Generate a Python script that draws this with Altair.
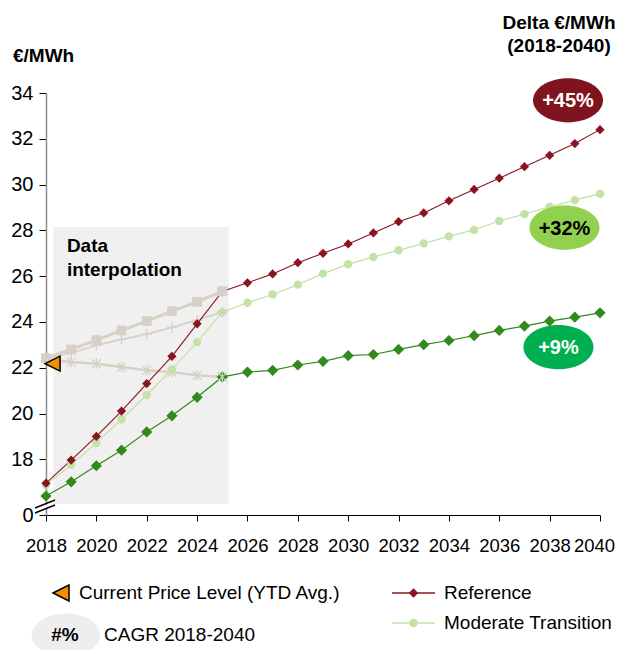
import altair as alt
import pandas as pd

# ---------------- data ----------------
years = list(range(2018, 2041))
reference = [16.96, 17.97, 19.0, 20.11, 21.31, 22.5, 23.92, 25.33, 25.71, 26.1, 26.59, 27.0,
             27.41, 27.89, 28.38, 28.76, 29.29, 29.79, 30.28, 30.78, 31.28, 31.79, 32.4]
moderate = [16.88, 17.76, 18.72, 19.75, 20.81, 21.93, 23.12, 24.43, 24.84, 25.2, 25.63, 26.11,
            26.52, 26.84, 27.13, 27.43, 27.74, 28.02, 28.41, 28.71, 29.03, 29.32, 29.6]
ambitious = [16.4, 17.02, 17.72, 18.4, 19.2, 19.9, 20.71, 21.6, 21.81, 21.89, 22.12, 22.28,
             22.53, 22.58, 22.8, 23.01, 23.19, 23.4, 23.63, 23.82, 24.04, 24.21, 24.4]

interp_years = list(range(2018, 2026))
interp_high = [22.42, 22.8, 23.21, 23.63, 24.04, 24.47, 24.88, 25.34]
interp_mid = [22.42, 22.65, 22.98, 23.24, 23.47, 23.76, 24.08, 24.43]
interp_low = [22.38, 22.25, 22.18, 22.03, 21.89, 21.81, 21.67, 21.6]

x_ticks = list(range(2018, 2041, 2))
y_bottom = 15.57
y_ticks = [y_bottom, 18, 20, 22, 24, 26, 28, 30, 32, 34]

interp_box = {"x": [2018.29], "x2": [2025.26], "y": [28.15], "y2": [16.05]}
current_price = {"year": [2018.26], "value": [22.18]}

badge_labels = ["+45%", "+32%", "+9%"]
badge_years = [2038.73, 2038.59, 2038.35]
badge_values = [33.68, 28.12, 22.9]
badge_fill = ["#80141E", "#92D050", "#00B050"]
badge_text = ["#FFFFFF", "#000000", "#FFFFFF"]

annot_lines = ["Data", "interpolation"]
annot_years = [2018.83, 2018.83]
annot_values = [27.31, 26.26]

FONT = "Liberation Sans"
RED = "#8A1522"
LGREEN = "#C5E2A6"
DGREEN = "#338A1C"
GRAY = "#D6D0C6"
ELLIPSE = ("M1,0 C1,0.3471 0.5523,0.63 0,0.63 C-0.5523,0.63 -1,0.3471 -1,0 "
           "C-1,-0.3471 -0.5523,-0.63 0,-0.63 C0.5523,-0.63 1,-0.3471 1,0 Z")
TRI_LEFT = "M-1,0 L1,-1 L1,1 Z"
PLUS = "M-1,0 L1,0 M0,-1 L0,1"
STAR = "M-0.8,-0.8 L0.8,0.8 M-0.8,0.8 L0.8,-0.8 M0,-1 L0,1"

# ---------------- scales / axes ----------------
xscale = alt.Scale(domain=[2018, 2040], nice=False, zero=False)
yscale = alt.Scale(domain=[y_bottom, 34], nice=False, zero=False)
xaxis = alt.Axis(values=x_ticks, format="d", title=None, labelFontSize=18.5, labelColor="black",
                 domainColor="black", tickColor="black", tickSize=6, labelPadding=15,
                 labelFont=FONT, labelFlush=False, labelOverlap=False,
                 labelOffset={"condition": {"test": "datum.value == 2040", "value": -6}, "value": 0})
yaxis = alt.Axis(values=y_ticks, title=None, labelFontSize=20, labelColor="black",
                 domainColor="#8C8C8C", domainWidth=1.5, tickColor="black", tickSize=7,
                 labelPadding=6, labelFont=FONT,
                 labelExpr="datum.value < 17 ? '0' : datum.label")


def X(field="year"):
    return alt.X(f"{field}:Q", scale=xscale, axis=xaxis)


def Y(field="value"):
    return alt.Y(f"{field}:Q", scale=yscale, axis=yaxis)


# ---------------- layers ----------------
box = alt.Chart(pd.DataFrame(interp_box)).mark_rect(color="#F0F0F0").encode(
    x=X("x"), x2="x2:Q", y=Y("y"), y2="y2:Q")

annot = alt.Chart(pd.DataFrame({"year": annot_years, "value": annot_values, "t": annot_lines})).mark_text(
    align="left", baseline="middle", fontSize=19, fontWeight="bold", font=FONT, color="#000000"
).encode(x=X(), y=Y(), text="t:N")

df_high = pd.DataFrame({"year": interp_years, "value": interp_high})
df_mid = pd.DataFrame({"year": interp_years, "value": interp_mid})
df_low = pd.DataFrame({"year": interp_years, "value": interp_low})

g_high_l = alt.Chart(df_high).mark_line(color=GRAY, strokeWidth=3).encode(x=X(), y=Y())
g_high_p = alt.Chart(df_high).mark_point(shape="square", filled=True, size=95, color=GRAY, opacity=1).encode(x=X(), y=Y())
g_mid_l = alt.Chart(df_mid).mark_line(color=GRAY, strokeWidth=1.8).encode(x=X(), y=Y())
g_mid_p = alt.Chart(df_mid).mark_point(shape=PLUS, filled=False, size=110, color=GRAY, strokeWidth=1.3, opacity=1).encode(x=X(), y=Y())
g_low_l = alt.Chart(df_low).mark_line(color=GRAY, strokeWidth=2.5).encode(x=X(), y=Y())
g_low_p = alt.Chart(df_low).mark_point(shape=STAR, filled=False, size=120, color=GRAY, strokeWidth=1.3, opacity=1).encode(x=X(), y=Y())

df_ref = pd.DataFrame({"year": years, "value": reference})
df_mod = pd.DataFrame({"year": years, "value": moderate})
df_amb = pd.DataFrame({"year": years, "value": ambitious})

amb_l = alt.Chart(df_amb).mark_line(color=DGREEN, strokeWidth=1.2).encode(x=X(), y=Y())
amb_p = alt.Chart(df_amb).mark_point(shape="diamond", filled=True, size=125, color=DGREEN, opacity=1).encode(x=X(), y=Y())
mod_l = alt.Chart(df_mod).mark_line(color=LGREEN, strokeWidth=1.3).encode(x=X(), y=Y())
mod_p = alt.Chart(df_mod).mark_point(shape="circle", filled=True, size=70, color=LGREEN, opacity=1).encode(x=X(), y=Y())
ref_l = alt.Chart(df_ref).mark_line(color=RED, strokeWidth=1.1).encode(x=X(), y=Y())
ref_p = alt.Chart(df_ref).mark_point(shape="diamond", filled=True, size=85, color=RED, opacity=1).encode(x=X(), y=Y())

g_end = alt.Chart(df_high[df_high.year == 2025]).mark_point(shape="square", filled=True, size=95, color=GRAY, opacity=1).encode(x=X(), y=Y())
g_mid_end = alt.Chart(df_mid[df_mid.year == 2025]).mark_point(shape=PLUS, filled=False, size=110, color=GRAY, strokeWidth=1.3, opacity=1).encode(x=X(), y=Y())
g_low_end = alt.Chart(df_low[df_low.year == 2025]).mark_point(shape=STAR, filled=False, size=120, color="#C9D6C0", strokeWidth=1.2, opacity=1).encode(x=X(), y=Y())

tri = alt.Chart(pd.DataFrame(current_price)).mark_point(
    shape=TRI_LEFT, filled=True, size=225, fill="#F39200", stroke="black", strokeWidth=1.5, opacity=1
).encode(x=X(), y=Y())

df_badge = pd.DataFrame({"year": badge_years, "value": badge_values, "label": badge_labels,
                         "fill": badge_fill, "tc": badge_text})
badges = alt.Chart(df_badge).mark_point(shape=ELLIPSE, filled=True, size=4900, opacity=1).encode(
    x=X(), y=Y(), color=alt.Color("fill:N", scale=None))
badge_t = alt.Chart(df_badge).mark_text(fontSize=20, fontWeight="bold", font=FONT, baseline="middle", dy=1).encode(
    x=X(), y=Y(), text="label:N", color=alt.Color("tc:N", scale=None))

# ---------------- outside-plot decorations (pixel positions) ----------------
one = pd.DataFrame({"a": [0]})


def label(text, x, y, align="left", bold=False, size=19):
    return alt.Chart(one).mark_text(text=text, align=align, baseline="middle", fontSize=size,
                                    fontWeight="bold" if bold else "normal", font=FONT, color="#000000"
                                    ).encode(x=alt.value(x), y=alt.value(y))


unit_t = label("€/MWh", -33, -37, bold=True)
delta1 = label("Delta €/MWh", 513, -70, align="center", bold=True)
delta2 = label("(2018-2040)", 513, -47, align="center", bold=True)

brk_mask = alt.Chart(one).mark_rect(color="white").encode(
    x=alt.value(-3), x2=alt.value(3), y=alt.value(411.5), y2=alt.value(415.5))
brk1 = alt.Chart(one).mark_rule(color="black", strokeWidth=1.5).encode(
    x=alt.value(-11), x2=alt.value(9), y=alt.value(415), y2=alt.value(407))
brk2 = alt.Chart(one).mark_rule(color="black", strokeWidth=1.5).encode(
    x=alt.value(-11), x2=alt.value(9), y=alt.value(420), y2=alt.value(412))

leg_tri = alt.Chart(one).mark_point(shape=TRI_LEFT, filled=True, size=256, fill="#F39200", stroke="black",
                                    strokeWidth=1.5, opacity=1).encode(x=alt.value(15), y=alt.value(500))
leg_tri_t = label("Current Price Level (YTD Avg.)", 33, 500)
leg_ell = alt.Chart(one).mark_point(shape=ELLIPSE, filled=True, size=4700, color="#EEEEEE", opacity=1).encode(
    x=alt.value(20), y=alt.value(542))
leg_ell_t = label("#%", 19, 542, align="center", bold=True)
leg_cagr = label("CAGR 2018-2040", 58, 542)

leg_ref_l = alt.Chart(one).mark_rule(color=RED, strokeWidth=1.5).encode(
    x=alt.value(346), x2=alt.value(389), y=alt.value(500))
leg_ref_p = alt.Chart(one).mark_point(shape="diamond", filled=True, size=90, color=RED, opacity=1).encode(
    x=alt.value(367.5), y=alt.value(500))
leg_ref_t = label("Reference", 398, 500)
leg_mod_l = alt.Chart(one).mark_rule(color=LGREEN, strokeWidth=1.5).encode(
    x=alt.value(346), x2=alt.value(389), y=alt.value(530))
leg_mod_p = alt.Chart(one).mark_point(shape="circle", filled=True, size=75, color=LGREEN, opacity=1).encode(
    x=alt.value(367.5), y=alt.value(530))
leg_mod_t = label("Moderate Transition", 398, 530)

chart = alt.layer(
    box, annot,
    g_high_l, g_mid_l, g_low_l, g_high_p, g_mid_p, g_low_p,
    amb_l, mod_l, ref_l, amb_p, mod_p, ref_p,
    g_end, g_mid_end, g_low_end,
    tri, badges, badge_t,
    unit_t, delta1, delta2,
    brk_mask, brk1, brk2,
    leg_tri, leg_tri_t, leg_ell, leg_ell_t, leg_cagr,
    leg_ref_l, leg_ref_p, leg_ref_t, leg_mod_l, leg_mod_p, leg_mod_t,
).properties(
    width=554, height=422,
    padding={"left": 38, "top": 85, "right": 15, "bottom": 135},
    autosize=alt.AutoSizeParams(type="none"),
).configure_view(stroke=None).configure_axis(grid=False)

chart.save("out.html", embed_options={"renderer": "svg", "actions": False})
